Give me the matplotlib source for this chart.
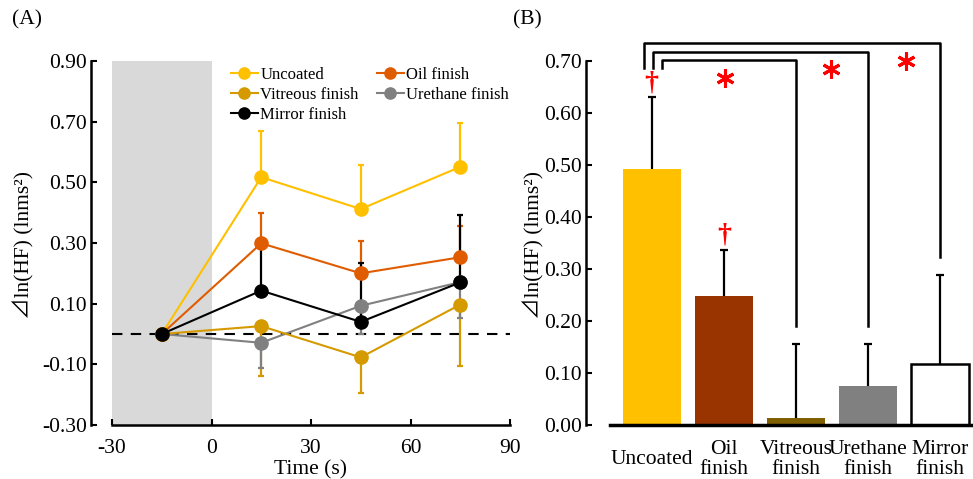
import numpy as np
import matplotlib
matplotlib.use('Agg')
import matplotlib.pyplot as plt
from matplotlib.ticker import FormatStrFormatter

plt.rcParams['font.family'] = ['Liberation Serif', 'Noto Sans CJK JP', 'DejaVu Sans']
plt.rcParams['axes.unicode_minus'] = False

# (A) 時系列データ
time = [-15, 15, 45, 75]
series = ['Uncoated', 'Oil finish', 'Vitreous finish', 'Urethane finish', 'Mirror finish']
means = {
    'Uncoated': [0.0, 0.517, 0.412, 0.551],
    'Oil finish': [0.0, 0.299, 0.200, 0.253],
    'Vitreous finish': [0.0, 0.026, -0.077, 0.097],
    'Urethane finish': [0.0, -0.029, 0.093, 0.171],
    'Mirror finish': [0.0, 0.143, 0.040, 0.170],
}
sds = {
    'Uncoated': [0.0, 0.153, 0.146, 0.144],
    'Oil finish': [0.0, 0.101, 0.107, 0.102],
    'Vitreous finish': [0.0, 0.164, 0.119, 0.202],
    'Urethane finish': [0.0, 0.082, 0.093, 0.117],
    'Mirror finish': [0.0, 0.155, 0.195, 0.222],
}
err_up = {'Uncoated': True, 'Oil finish': True, 'Vitreous finish': False,
          'Urethane finish': False, 'Mirror finish': True}
line_colors = {'Uncoated': '#FFC000', 'Oil finish': '#E05C00', 'Vitreous finish': '#D49A00',
               'Urethane finish': '#808080', 'Mirror finish': '#000000'}

# (B) 棒グラフ
categories = ['Uncoated', 'Oil\nfinish', 'Vitreous\nfinish', 'Urethane\nfinish', 'Mirror\nfinish']
bar_vals = [0.493, 0.249, 0.013, 0.075, 0.117]
bar_sds = [0.137, 0.088, 0.142, 0.080, 0.172]
bar_colors = ['#FFC000', '#993300', '#7F6000', '#808080', '#FFFFFF']

fig = plt.figure(figsize=(9.73, 4.79), dpi=100)
W, H = 973, 479

def px_axes(l, r, t, b):
    return fig.add_axes([l / W, 1 - b / H, (r - l) / W, (b - t) / H])

# ---------------- (A) ----------------
ax1 = px_axes(112, 510, 61, 425)
ax1.axvspan(-30, 0, color='#d9d9d9', lw=0, zorder=0)
ax1.axhline(0, color='black', ls=(0, (5, 4)), lw=1.5, zorder=1)

# 誤差棒を先に描く（片側のみ）
for s in series:
    m = np.array(means[s])[1:]
    e = np.array(sds[s])[1:]
    z = np.zeros_like(e)
    yerr = [z, e] if err_up[s] else [e, z]
    _, caps, _ = ax1.errorbar(time[1:], m, yerr=yerr, fmt='none',
                              ecolor=line_colors[s], elinewidth=1.6, capsize=2.5,
                              capthick=1.6, zorder=2)
    caps[0 if err_up[s] else 1].set_visible(False)

handles = {}
for s in ['Urethane finish', 'Vitreous finish', 'Oil finish', 'Uncoated', 'Mirror finish']:
    h, = ax1.plot(time, means[s], color=line_colors[s], lw=1.5, marker='o', ms=9.5,
                  label=s, zorder=3)
    handles[s] = h

order = ['Uncoated', 'Vitreous finish', 'Mirror finish', 'Oil finish', 'Urethane finish']
ax1.legend([handles[k] for k in order], order, ncol=2, loc='upper left',
           bbox_to_anchor=(0.27, 1.015), frameon=False, fontsize=12,
           handlelength=1.6, handletextpad=0.15, columnspacing=1.1,
           labelspacing=0.22, borderpad=0.2, markerscale=0.85)

ax1.set_xlim(-30, 90)
ax1.set_ylim(-0.30, 0.90)
ax1.set_xticks([-30, 0, 30, 60, 90])
ax1.set_yticks(np.arange(-0.30, 0.91, 0.20))
ax1.yaxis.set_major_formatter(FormatStrFormatter('%.2f'))
ax1.spines['top'].set_visible(False)
ax1.spines['right'].set_visible(False)
ax1.spines['left'].set_position(('outward', 15))
for sp in ['left', 'bottom']:
    ax1.spines[sp].set_linewidth(1.8)
ax1.tick_params(direction='in', length=4, width=1.5, labelsize=15.5)
ax1.tick_params(axis='y', pad=3)
ax1.tick_params(axis='x', pad=10)
ax1.set_xlabel('Time (s)', fontsize=15.5, labelpad=1.5)
fig.text(23 / W, 1 - 245 / H, '⊿ln(HF) (lnms²)', rotation=90, fontsize=15.5,
         ha='center', va='center')

# ---------------- (B) ----------------
ax2 = px_axes(610, 973, 61, 425)
x = np.arange(len(categories))
ax2.bar(x, bar_vals, width=0.8, color=bar_colors, edgecolor=['none'] * 4 + ['black'],
        linewidth=[0, 0, 0, 0, 1.8], zorder=2)
_, caps, _ = ax2.errorbar(x, bar_vals, yerr=[np.zeros(len(x)), bar_sds], fmt='none',
                          ecolor='black', elinewidth=1.6, capsize=3, capthick=1.6, zorder=3)
caps[0].set_visible(False)

# 有意差ブラケット
tops = np.array(bar_vals) + np.array(bar_sds)
br_targets = [4, 3, 2]
br_levels = [0.735, 0.718, 0.701]
br_left = [-0.107, 0.018, 0.143]
for tgt, lev, xl in zip(br_targets, br_levels, br_left):
    ax2.plot([xl, xl, tgt, tgt], [0.687, lev, lev, tops[tgt] + 0.035],
             color='black', lw=1.8, clip_on=False, zorder=4)

star_pos = [(1.02, 0.668), (2.49, 0.685), (3.52, 0.700)]
for sx, sy in star_pos:
    ax2.plot(sx, sy, marker=(6, 2, 0), ms=13, mew=2.2, color='#FF0000', clip_on=False, zorder=5)
for i in [0, 1]:
    ax2.text(x[i], tops[i] + 0.004, '†', color='#FF0000', fontsize=20, fontweight='bold',
             ha='center', va='bottom', zorder=5)

ax2.set_xlim(-0.578, 4.456)
ax2.set_ylim(0, 0.70)
ax2.set_yticks(np.arange(0, 0.71, 0.10))
ax2.yaxis.set_major_formatter(FormatStrFormatter('%.2f'))
ax2.set_xticks(x)
ax2.set_xticklabels(categories)
ax2.spines['top'].set_visible(False)
ax2.spines['right'].set_visible(False)
ax2.spines['left'].set_position(('outward', 17))
ax2.spines['left'].set_linewidth(1.8)
ax2.spines['bottom'].set_linewidth(2.5)
ax2.tick_params(axis='y', direction='in', length=4, width=1.5, labelsize=15.5, pad=3)
ax2.tick_params(axis='x', length=0, labelsize=15.5, pad=25)
for lab in ax2.get_xticklabels():
    lab.set_verticalalignment('center')
    lab.set_linespacing(1.1)
fig.text(533 / W, 1 - 245 / H, '⊿ln(HF) (lnms²)', rotation=90, fontsize=15.5,
         ha='center', va='center')

fig.text(12 / W, 1 - 20 / H, '(A)', fontsize=15.5, ha='left', va='center')
fig.text(513 / W, 1 - 20 / H, '(B)', fontsize=15.5, ha='left', va='center')

fig.savefig('out.png', dpi=100)
